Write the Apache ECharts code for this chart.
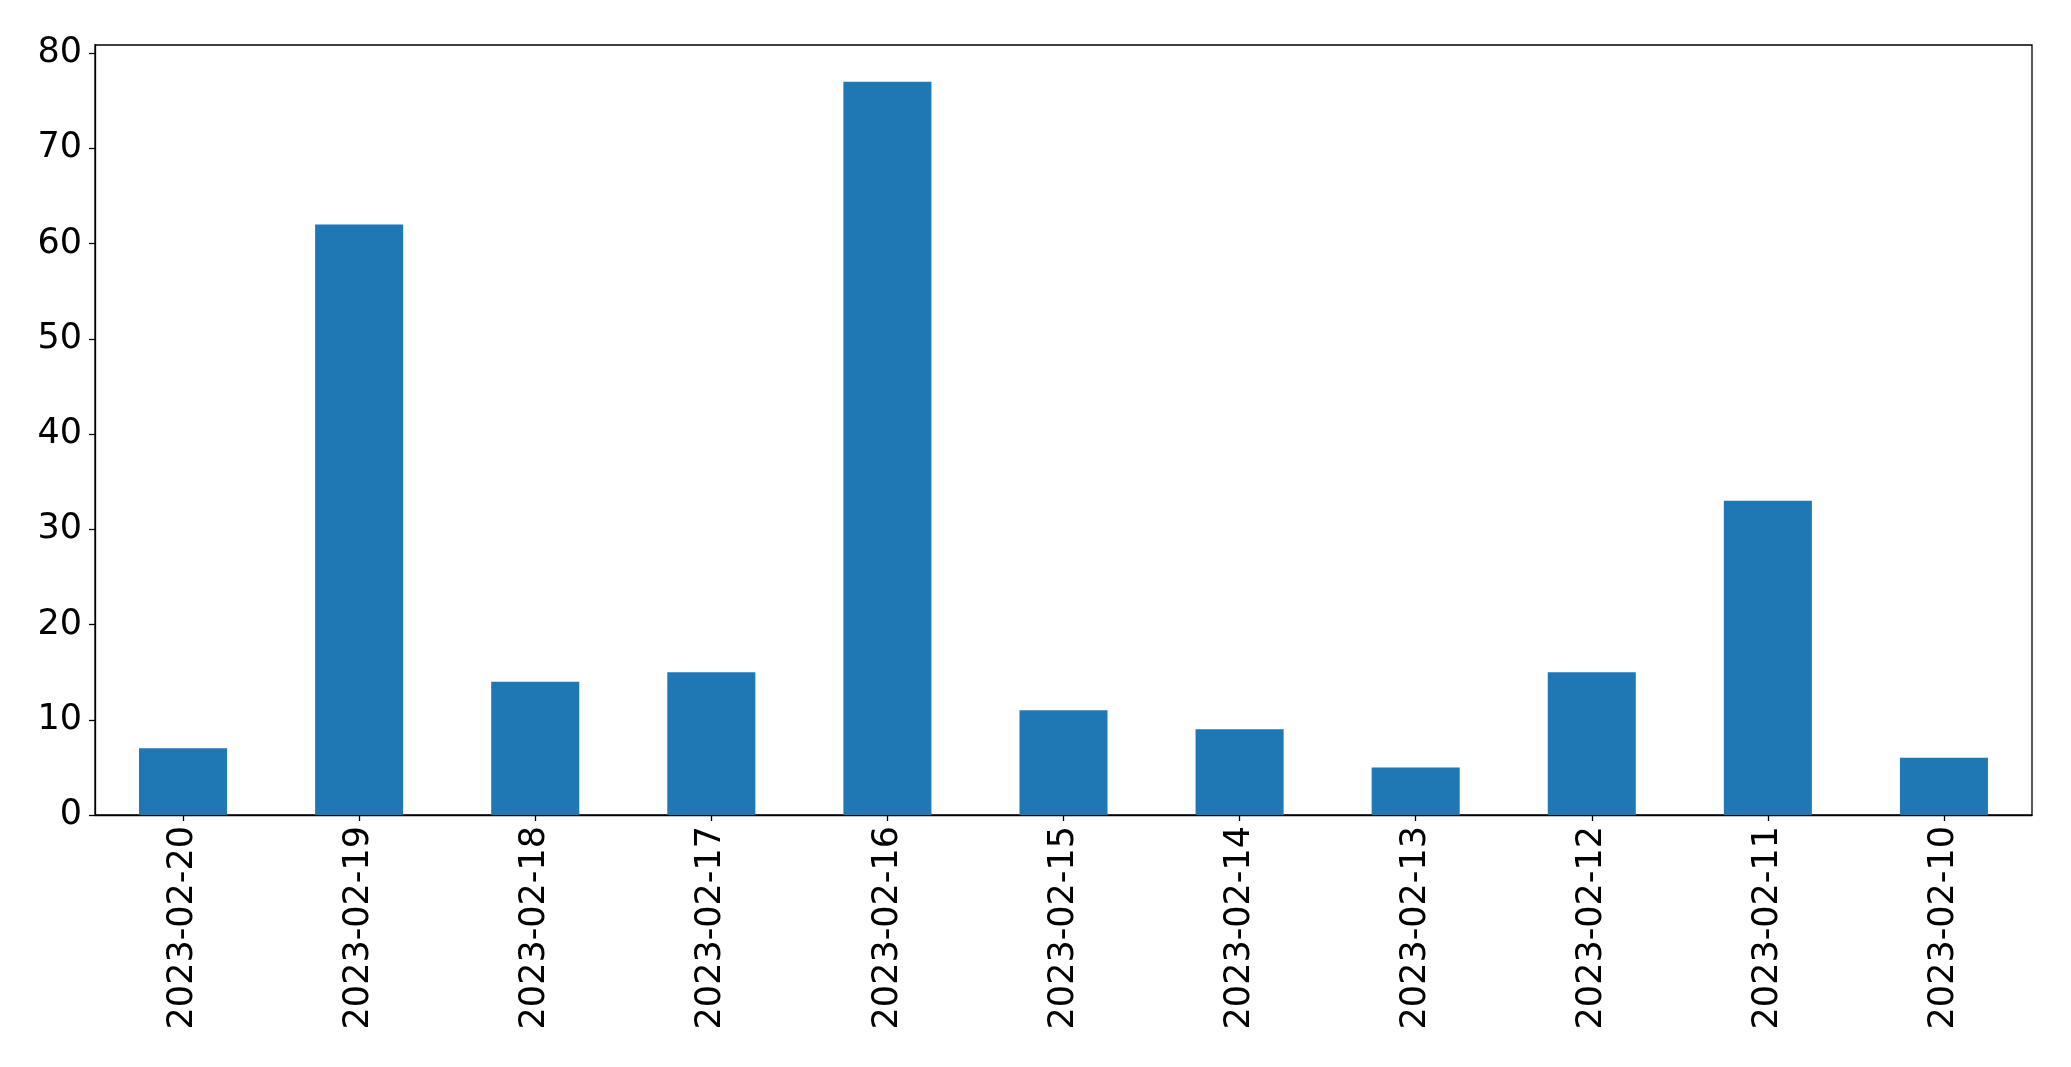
<!DOCTYPE html>
<html>
<head>
<meta charset="utf-8">
<script src="https://cdn.jsdelivr.net/npm/echarts@6/dist/echarts.min.js"></script>
<style>
html,body{margin:0;padding:0;background:#fff;}
#chart{width:2071px;height:1067px;}
</style>
</head>
<body>
<div id="chart"></div>
<script>
const categories = ['2023-02-20','2023-02-19','2023-02-18','2023-02-17','2023-02-16','2023-02-15','2023-02-14','2023-02-13','2023-02-12','2023-02-11','2023-02-10'];
const values = [7, 62, 14, 15, 77, 11, 9, 5, 15, 33, 6];
const yTicks = [0, 10, 20, 30, 40, 50, 60, 70, 80];

const chart = echarts.init(document.getElementById('chart'), null, {renderer: 'canvas'});
const font = 'DejaVu Sans';
chart.setOption({
  animation: false,
  backgroundColor: '#ffffff',
  grid: {
    left: 95, right: 39, top: 45, bottom: 252,
    show: true, borderColor: '#000', borderWidth: 1.3, backgroundColor: 'transparent'
  },
  xAxis: {
    type: 'category',
    data: categories,
    boundaryGap: true,
    axisLine: {show: true, lineStyle: {color: '#000', width: 1.3}},
    axisTick: {show: true, alignWithLabel: true, length: 6, lineStyle: {color: '#000', width: 1.3}},
    axisLabel: {rotate: 90, margin: 11, color: '#000', fontSize: 35, fontFamily: font, interval: 0}
  },
  yAxis: {
    type: 'value',
    min: 0,
    max: 80.85,
    interval: 10,
    splitLine: {show: false},
    axisLine: {show: true, lineStyle: {color: '#000', width: 1.3}},
    axisTick: {show: true, length: 6, customValues: yTicks, lineStyle: {color: '#000', width: 1.3}},
    axisLabel: {margin: 13, color: '#000', fontSize: 35, fontFamily: font, customValues: yTicks}
  },
  series: [{
    type: 'bar',
    data: values,
    barWidth: '50%',
    itemStyle: {color: '#1f77b4'}
  }]
});
</script>
</body>
</html>
